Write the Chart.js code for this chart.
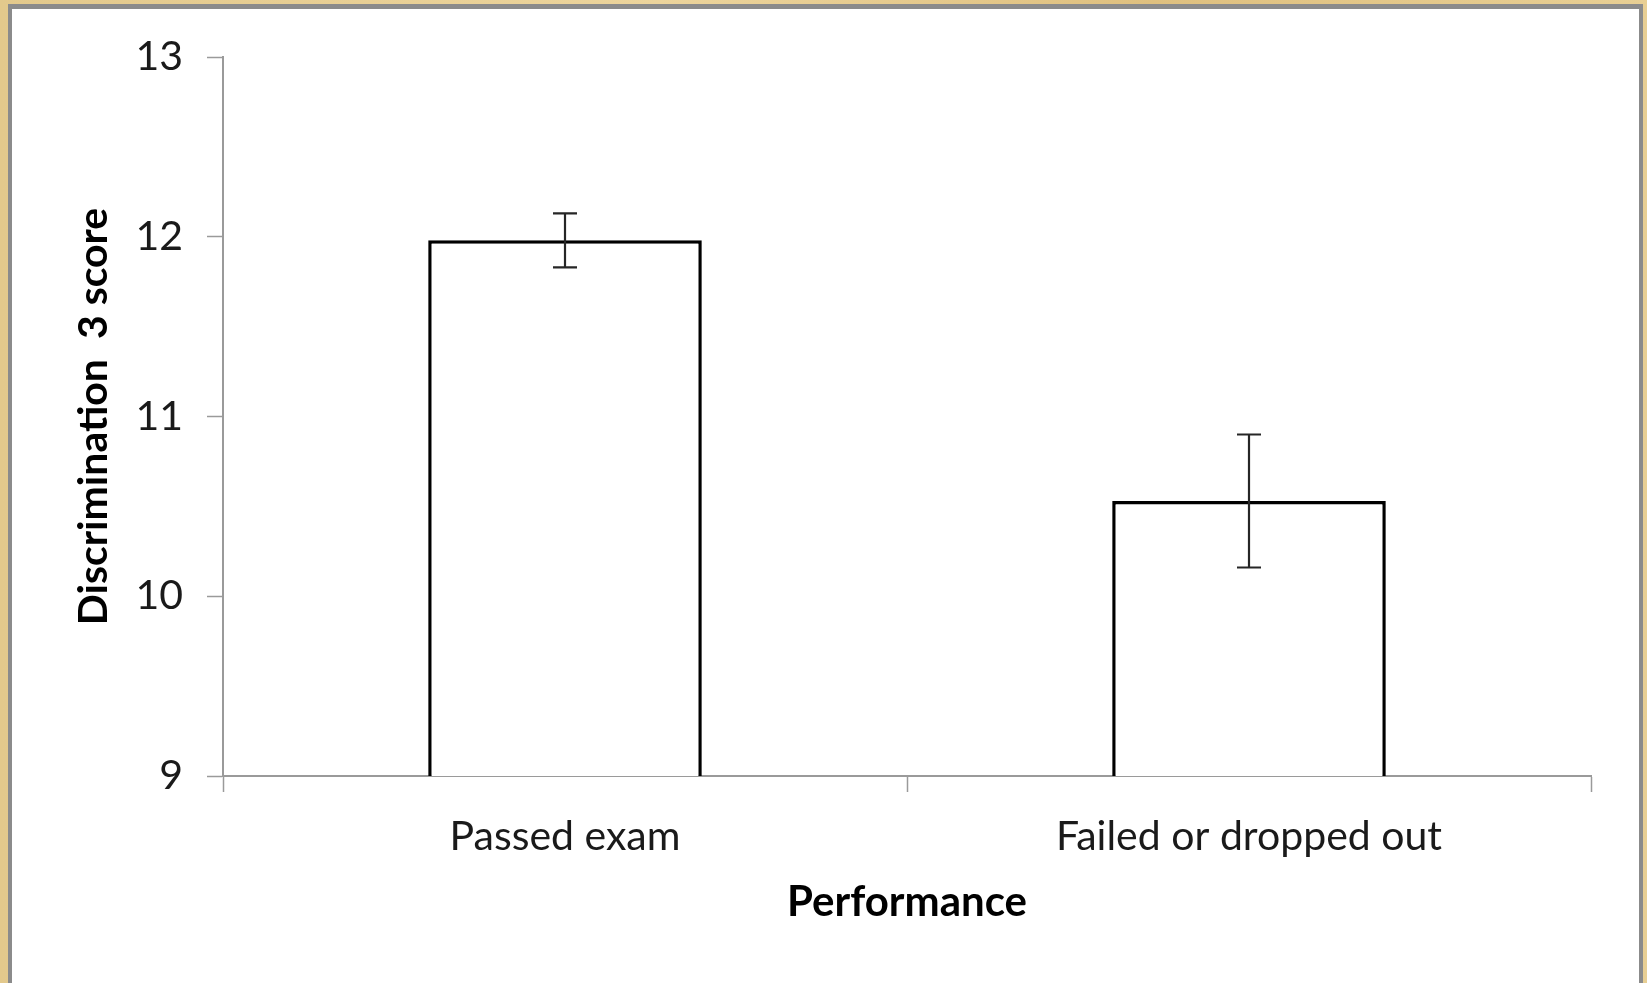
<!DOCTYPE html>
<html>
<head>
<meta charset="utf-8">
<script src="https://cdn.jsdelivr.net/npm/chart.js@4.4.0/dist/chart.umd.min.js"></script>
<style>
  html, body { margin: 0; padding: 0; width: 1647px; height: 983px; overflow: hidden; }
  body { background: linear-gradient(90deg, #e3c98c, #ecd49c 40%, #dfc07f 70%, #e8cf94); }
  #frame { position: absolute; left: 8px; top: 4px; width: 1627px; height: 1000px;
           border: 4px solid #8b8b8b; border-top-width: 5px; background: #fff; }
  #chart { position: absolute; left: 0; top: 0; }
</style>
</head>
<body>
<div id="frame"></div>
<canvas id="chart" width="1647" height="983"></canvas>
<script>
// --- data ---
const categories = ['Passed exam', 'Failed or dropped out'];
const means = [11.98, 10.53];
const errors = [0.15, 0.37];
const yTicks = [9, 10, 11, 12, 13];
const xTitle = 'Performance';
const yTitle = 'Discrimination  3 score';

const FONT = 'Lato, "Open Sans", sans-serif';
const AXIS = '#9a9a9a';

// error bars drawn on top of the bars
const errorBars = {
    id: 'errorBars',
    afterDatasetsDraw(chart) {
        const ctx = chart.ctx;
        const y = chart.scales.y;
        const meta = chart.getDatasetMeta(0);
        ctx.save();
        ctx.strokeStyle = '#262626';
        ctx.lineWidth = 2.2;
        meta.data.forEach((bar, i) => {
            const x = Math.round(bar.x);
            const top = y.getPixelForValue(means[i] + errors[i]);
            const bot = y.getPixelForValue(means[i] - errors[i]);
            ctx.beginPath();
            ctx.moveTo(x, top); ctx.lineTo(x, bot);
            ctx.moveTo(x - 12, top); ctx.lineTo(x + 12, top);
            ctx.moveTo(x - 12, bot); ctx.lineTo(x + 12, bot);
            ctx.stroke();
        });
        ctx.restore();
    }
};

new Chart(document.getElementById('chart'), {
    type: 'bar',
    data: {
        labels: categories,
        datasets: [{
            data: means,
            backgroundColor: '#ffffff',
            borderColor: '#000000',
            borderWidth: 3.5,
            borderSkipped: false,
            categoryPercentage: 1,
            barPercentage: 0.4
        }]
    },
    options: {
        responsive: false,
        animation: false,
        devicePixelRatio: 1,
        layout: { padding: { top: 57, right: 56, left: 0, bottom: 0 } },
        plugins: { legend: { display: false }, tooltip: { enabled: false } },
        scales: {
            x: {
                offset: true,
                grid: { drawOnChartArea: false, drawTicks: true, tickLength: 16, tickColor: AXIS, tickWidth: 1.5, offset: true },
                border: { color: AXIS, width: 2 },
                ticks: { color: '#1a1a1a', font: { family: FONT, size: 41 }, padding: 20 },
                title: { display: true, text: xTitle, color: '#000', font: { family: FONT, size: 42, weight: 'bold' }, padding: { top: 0, bottom: 55 } },
                afterFit: s => { s.height = 207; }
            },
            y: {
                min: yTicks[0],
                max: yTicks[yTicks.length - 1],
                afterBuildTicks: s => { s.ticks = yTicks.map(v => ({ value: v })); },
                grid: { drawOnChartArea: false, tickLength: 16, tickColor: AXIS, tickWidth: 1.5 },
                border: { color: AXIS, width: 2 },
                ticks: { color: '#1a1a1a', font: { family: FONT, size: 41 }, padding: 24 },
                title: { display: true, text: yTitle, color: '#000', font: { family: FONT, size: 41, weight: 'bold' }, padding: { top: 69, bottom: 0 } },
                afterFit: s => { s.width = 223; }
            }
        }
    },
    plugins: [errorBars]
});
</script>
</body>
</html>
